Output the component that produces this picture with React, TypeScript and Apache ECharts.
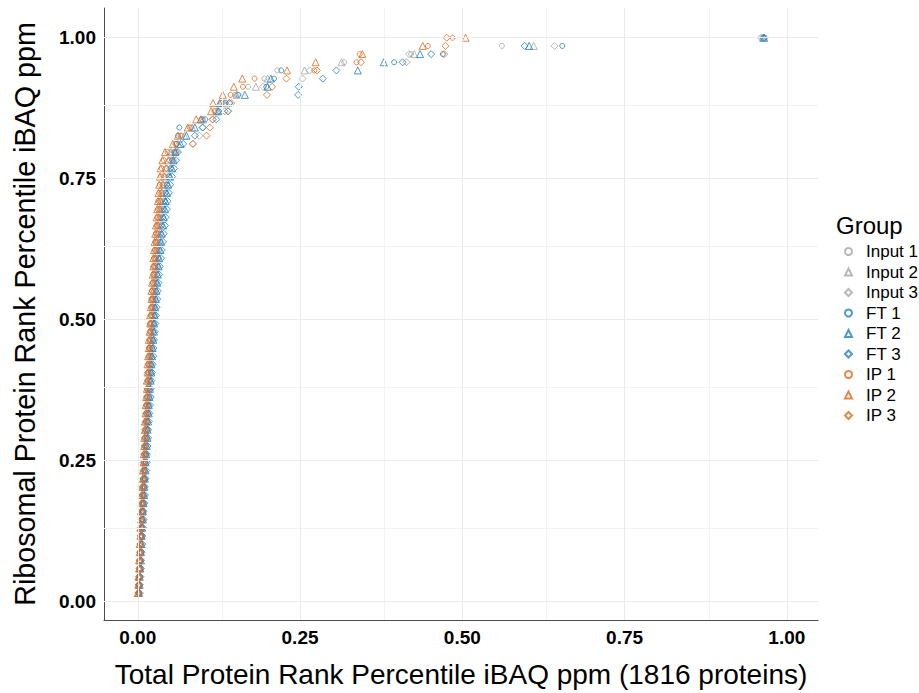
import React, { useEffect, useRef } from "react";
import * as echarts from "echarts";

// Ribosomal protein rank percentile (y) shared by every sample (69 proteins)
const yPct = [
  0.0145, 0.029, 0.0435, 0.058, 0.0725, 0.087, 0.1014, 0.1159, 0.1304, 0.1449,
  0.1594, 0.1739, 0.1884, 0.2029, 0.2174, 0.2319, 0.2464, 0.2609, 0.2754, 0.2899,
  0.3043, 0.3188, 0.3333, 0.3478, 0.3623, 0.3768, 0.3913, 0.4058, 0.4203, 0.4348,
  0.4493, 0.4638, 0.4783, 0.4928, 0.5072, 0.5217, 0.5362, 0.5507, 0.5652, 0.5797,
  0.5942, 0.6087, 0.6232, 0.6377, 0.6522, 0.6667, 0.6812, 0.6957, 0.7101, 0.7246,
  0.7391, 0.7536, 0.7681, 0.7826, 0.7971, 0.8116, 0.8261, 0.8406, 0.8551, 0.8696,
  0.8841, 0.8986, 0.913, 0.9275, 0.942, 0.9565, 0.971, 0.9855, 1.0,
];

// Total protein rank percentile (x) per sample
const input1 = [
  0.001, 0.002, 0.002, 0.003, 0.003, 0.004, 0.004, 0.005, 0.006, 0.006,
  0.007, 0.007, 0.008, 0.008, 0.009, 0.010, 0.010, 0.011, 0.012, 0.012,
  0.013, 0.013, 0.014, 0.015, 0.015, 0.016, 0.017, 0.017, 0.018, 0.019,
  0.019, 0.020, 0.021, 0.022, 0.022, 0.023, 0.024, 0.025, 0.026, 0.026,
  0.027, 0.028, 0.029, 0.030, 0.031, 0.032, 0.034, 0.035, 0.036, 0.038,
  0.040, 0.042, 0.045, 0.048, 0.050, 0.060, 0.068, 0.082, 0.100, 0.120,
  0.130, 0.150, 0.170, 0.195, 0.215, 0.318, 0.421, 0.561, 0.962,
];
const input2 = [
  0.001, 0.001, 0.002, 0.003, 0.003, 0.004, 0.004, 0.005, 0.005, 0.006,
  0.007, 0.007, 0.008, 0.008, 0.009, 0.009, 0.010, 0.011, 0.011, 0.012,
  0.012, 0.013, 0.014, 0.014, 0.015, 0.016, 0.016, 0.017, 0.018, 0.018,
  0.019, 0.020, 0.020, 0.021, 0.022, 0.023, 0.023, 0.024, 0.025, 0.026,
  0.027, 0.027, 0.028, 0.029, 0.030, 0.031, 0.033, 0.034, 0.035, 0.037,
  0.039, 0.041, 0.044, 0.047, 0.051, 0.062, 0.072, 0.084, 0.101, 0.122,
  0.133, 0.152, 0.182, 0.200, 0.257, 0.314, 0.426, 0.610, 0.963,
];
const input3 = [
  0.001, 0.002, 0.003, 0.003, 0.004, 0.004, 0.005, 0.005, 0.006, 0.007,
  0.007, 0.008, 0.008, 0.009, 0.010, 0.010, 0.011, 0.011, 0.012, 0.013,
  0.013, 0.014, 0.015, 0.015, 0.016, 0.017, 0.017, 0.018, 0.019, 0.020,
  0.020, 0.021, 0.022, 0.023, 0.023, 0.024, 0.025, 0.026, 0.027, 0.028,
  0.029, 0.030, 0.031, 0.032, 0.033, 0.035, 0.036, 0.038, 0.040, 0.042,
  0.044, 0.047, 0.050, 0.055, 0.060, 0.085, 0.095, 0.100, 0.116, 0.139,
  0.141, 0.153, 0.193, 0.254, 0.265, 0.414, 0.418, 0.642, 0.960,
];
const ft1 = [
  0.002, 0.002, 0.003, 0.004, 0.004, 0.005, 0.005, 0.006, 0.007, 0.007,
  0.008, 0.009, 0.009, 0.010, 0.011, 0.011, 0.012, 0.013, 0.013, 0.014,
  0.015, 0.015, 0.016, 0.017, 0.018, 0.018, 0.019, 0.020, 0.021, 0.021,
  0.022, 0.023, 0.024, 0.025, 0.026, 0.026, 0.027, 0.028, 0.029, 0.030,
  0.031, 0.032, 0.033, 0.035, 0.036, 0.037, 0.039, 0.040, 0.042, 0.043,
  0.045, 0.048, 0.051, 0.053, 0.056, 0.060, 0.062, 0.064, 0.104, 0.125,
  0.135, 0.155, 0.198, 0.210, 0.221, 0.395, 0.470, 0.654, 0.966,
];
const ft2 = [
  0.002, 0.003, 0.003, 0.004, 0.005, 0.005, 0.006, 0.006, 0.007, 0.008,
  0.008, 0.009, 0.010, 0.010, 0.011, 0.012, 0.012, 0.013, 0.014, 0.015,
  0.015, 0.016, 0.017, 0.017, 0.018, 0.019, 0.020, 0.021, 0.021, 0.022,
  0.023, 0.024, 0.025, 0.025, 0.026, 0.027, 0.028, 0.029, 0.030, 0.031,
  0.032, 0.033, 0.035, 0.036, 0.037, 0.039, 0.040, 0.042, 0.043, 0.045,
  0.047, 0.050, 0.053, 0.055, 0.058, 0.066, 0.075, 0.088, 0.097, 0.124,
  0.126, 0.165, 0.200, 0.205, 0.339, 0.379, 0.435, 0.603, 0.965,
];
const ft3 = [
  0.003, 0.003, 0.004, 0.005, 0.005, 0.006, 0.007, 0.007, 0.008, 0.009,
  0.009, 0.010, 0.011, 0.011, 0.012, 0.013, 0.014, 0.014, 0.015, 0.016,
  0.016, 0.017, 0.018, 0.019, 0.020, 0.020, 0.021, 0.022, 0.023, 0.024,
  0.024, 0.025, 0.026, 0.027, 0.028, 0.029, 0.030, 0.031, 0.032, 0.033,
  0.034, 0.036, 0.037, 0.039, 0.040, 0.042, 0.043, 0.045, 0.046, 0.048,
  0.050, 0.053, 0.056, 0.059, 0.062, 0.070, 0.088, 0.100, 0.121, 0.139,
  0.141, 0.247, 0.248, 0.285, 0.306, 0.408, 0.452, 0.596, 0.964,
];
const ip1 = [
  0.001, 0.001, 0.002, 0.002, 0.003, 0.003, 0.004, 0.004, 0.005, 0.005,
  0.006, 0.006, 0.007, 0.007, 0.008, 0.009, 0.009, 0.010, 0.010, 0.011,
  0.011, 0.012, 0.013, 0.013, 0.014, 0.014, 0.015, 0.016, 0.016, 0.017,
  0.017, 0.018, 0.019, 0.019, 0.020, 0.021, 0.021, 0.022, 0.023, 0.024,
  0.024, 0.025, 0.026, 0.027, 0.028, 0.029, 0.030, 0.031, 0.032, 0.033,
  0.034, 0.036, 0.037, 0.040, 0.046, 0.058, 0.066, 0.080, 0.098, 0.118,
  0.128, 0.143, 0.162, 0.180, 0.272, 0.337, 0.342, 0.447, 0.485,
];
const ip2 = [
  0.000, 0.001, 0.001, 0.002, 0.002, 0.003, 0.003, 0.004, 0.004, 0.005,
  0.005, 0.006, 0.006, 0.007, 0.008, 0.008, 0.009, 0.009, 0.010, 0.010,
  0.011, 0.011, 0.012, 0.012, 0.013, 0.014, 0.014, 0.015, 0.015, 0.016,
  0.017, 0.017, 0.018, 0.019, 0.019, 0.020, 0.021, 0.021, 0.022, 0.023,
  0.024, 0.024, 0.025, 0.026, 0.027, 0.028, 0.029, 0.030, 0.031, 0.032,
  0.033, 0.034, 0.035, 0.038, 0.042, 0.054, 0.062, 0.077, 0.090, 0.113,
  0.116, 0.131, 0.148, 0.161, 0.230, 0.274, 0.346, 0.439, 0.505,
];
const ip3 = [
  0.001, 0.002, 0.002, 0.003, 0.003, 0.004, 0.004, 0.005, 0.005, 0.006,
  0.006, 0.007, 0.007, 0.008, 0.009, 0.009, 0.010, 0.010, 0.011, 0.011,
  0.012, 0.013, 0.013, 0.014, 0.014, 0.015, 0.016, 0.016, 0.017, 0.018,
  0.018, 0.019, 0.020, 0.020, 0.021, 0.022, 0.023, 0.023, 0.024, 0.025,
  0.026, 0.027, 0.028, 0.029, 0.030, 0.031, 0.032, 0.034, 0.035, 0.037,
  0.039, 0.041, 0.044, 0.050, 0.058, 0.085, 0.106, 0.111, 0.115, 0.134,
  0.144, 0.199, 0.207, 0.229, 0.276, 0.344, 0.472, 0.474, 0.476,
];

const seriesNames = ["Input 1", "Input 2", "Input 3", "FT 1", "FT 2", "FT 3", "IP 1", "IP 2", "IP 3"];
const seriesX = [input1, input2, input3, ft1, ft2, ft3, ip1, ip2, ip3];
const seriesColors = ["#a6a6a6", "#a6a6a6", "#a6a6a6", "#1f7fc4", "#1f7fc4", "#1f7fc4", "#e06a1e", "#e06a1e", "#e06a1e"];
const seriesSymbols = ["circle", "triangle", "diamond", "circle", "triangle", "diamond", "circle", "triangle", "diamond"];
const seriesSizes = [5, 7, 7, 5, 7, 7, 5, 7, 7];

const majorTicks = [0, 0.25, 0.5, 0.75, 1];
const minorTicks = [0.125, 0.375, 0.625, 0.875];

const FONT = "'Liberation Sans', Arial, sans-serif";

export default function App() {
  const ref = useRef<HTMLDivElement>(null);
  useEffect(() => {
    if (!ref.current) return;
    const chart = echarts.init(ref.current, undefined, { renderer: "svg" });

    const gridSeries = {
      type: "scatter",
      name: "__grid",
      data: [],
      z: 1,
      silent: true,
      markLine: {
        silent: true,
        symbol: ["none", "none"],
        label: { show: false },
        animation: false,
        data: [
          ...minorTicks.map((v) => ({ xAxis: v, lineStyle: { color: "#f3f3f3", width: 1, type: "solid" } })),
          ...minorTicks.map((v) => ({ yAxis: v, lineStyle: { color: "#f3f3f3", width: 1, type: "solid" } })),
          ...majorTicks.map((v) => ({ xAxis: v, lineStyle: { color: "#ebebeb", width: 1, type: "solid" } })),
          ...majorTicks.map((v) => ({ yAxis: v, lineStyle: { color: "#ebebeb", width: 1, type: "solid" } })),
        ],
      },
    };

    const scatterSeries = seriesNames.map((name, i) => ({
      type: "scatter",
      name,
      z: 2,
      symbol: seriesSymbols[i],
      symbolSize: seriesSizes[i],
      itemStyle: {
        color: "rgba(255,255,255,0)",
        borderColor: seriesColors[i],
        borderWidth: 1,
      },
      data: seriesX[i].map((x, k) => [x, yPct[k]]),
    }));

    chart.setOption({
      animation: false,
      backgroundColor: "#ffffff",
      textStyle: { fontFamily: FONT },
      grid: { left: 104, right: 101, top: 8, bottom: 68, containLabel: false },
      title: {
        text: "Group",
        left: 831,
        top: 208,
        textStyle: { fontFamily: FONT, fontSize: 24, fontWeight: "normal", color: "#000" },
      },
      legend: {
        data: seriesNames,
        orient: "vertical",
        left: 844,
        top: 243,
        padding: 0,
        itemWidth: 7,
        itemHeight: 7,
        itemGap: 3.5,
        textStyle: { fontFamily: FONT, fontSize: 17, lineHeight: 17, color: "#000", padding: [0, 0, 0, 9] },
      },
      xAxis: {
        type: "value",
        min: -0.052,
        max: 1.048,
        name: "Total Protein Rank Percentile iBAQ ppm (1816 proteins)",
        nameLocation: "middle",
        nameGap: 40,
        nameTextStyle: { fontFamily: FONT, fontSize: 28, color: "#000" },
        axisLine: { show: true, onZero: false, lineStyle: { color: "#4d4d4d", width: 1 } },
        axisTick: { show: false },
        splitLine: { show: false },
        axisLabel: {
          customValues: majorTicks,
          formatter: (v: number) => v.toFixed(2),
          fontFamily: FONT,
          fontSize: 19,
          fontWeight: "bold",
          color: "#000",
          margin: 8,
        },
      },
      yAxis: {
        type: "value",
        min: -0.0335,
        max: 1.0528,
        name: "Ribosomal Protein Rank Percentile iBAQ ppm",
        nameLocation: "middle",
        nameGap: 65,
        nameTextStyle: { fontFamily: FONT, fontSize: 28.7, color: "#000" },
        axisLine: { show: true, onZero: false, lineStyle: { color: "#4d4d4d", width: 1 } },
        axisTick: { show: false },
        splitLine: { show: false },
        axisLabel: {
          customValues: majorTicks,
          formatter: (v: number) => v.toFixed(2),
          fontFamily: FONT,
          fontSize: 19,
          fontWeight: "bold",
          color: "#000",
          margin: 8,
        },
      },
      series: [gridSeries, ...scatterSeries],
    });
    return () => chart.dispose();
  }, []);
  return (
    <div
      ref={ref}
      style={{ position: "fixed", left: 0, top: 0, width: 919, height: 693 }}
    />
  );
}
